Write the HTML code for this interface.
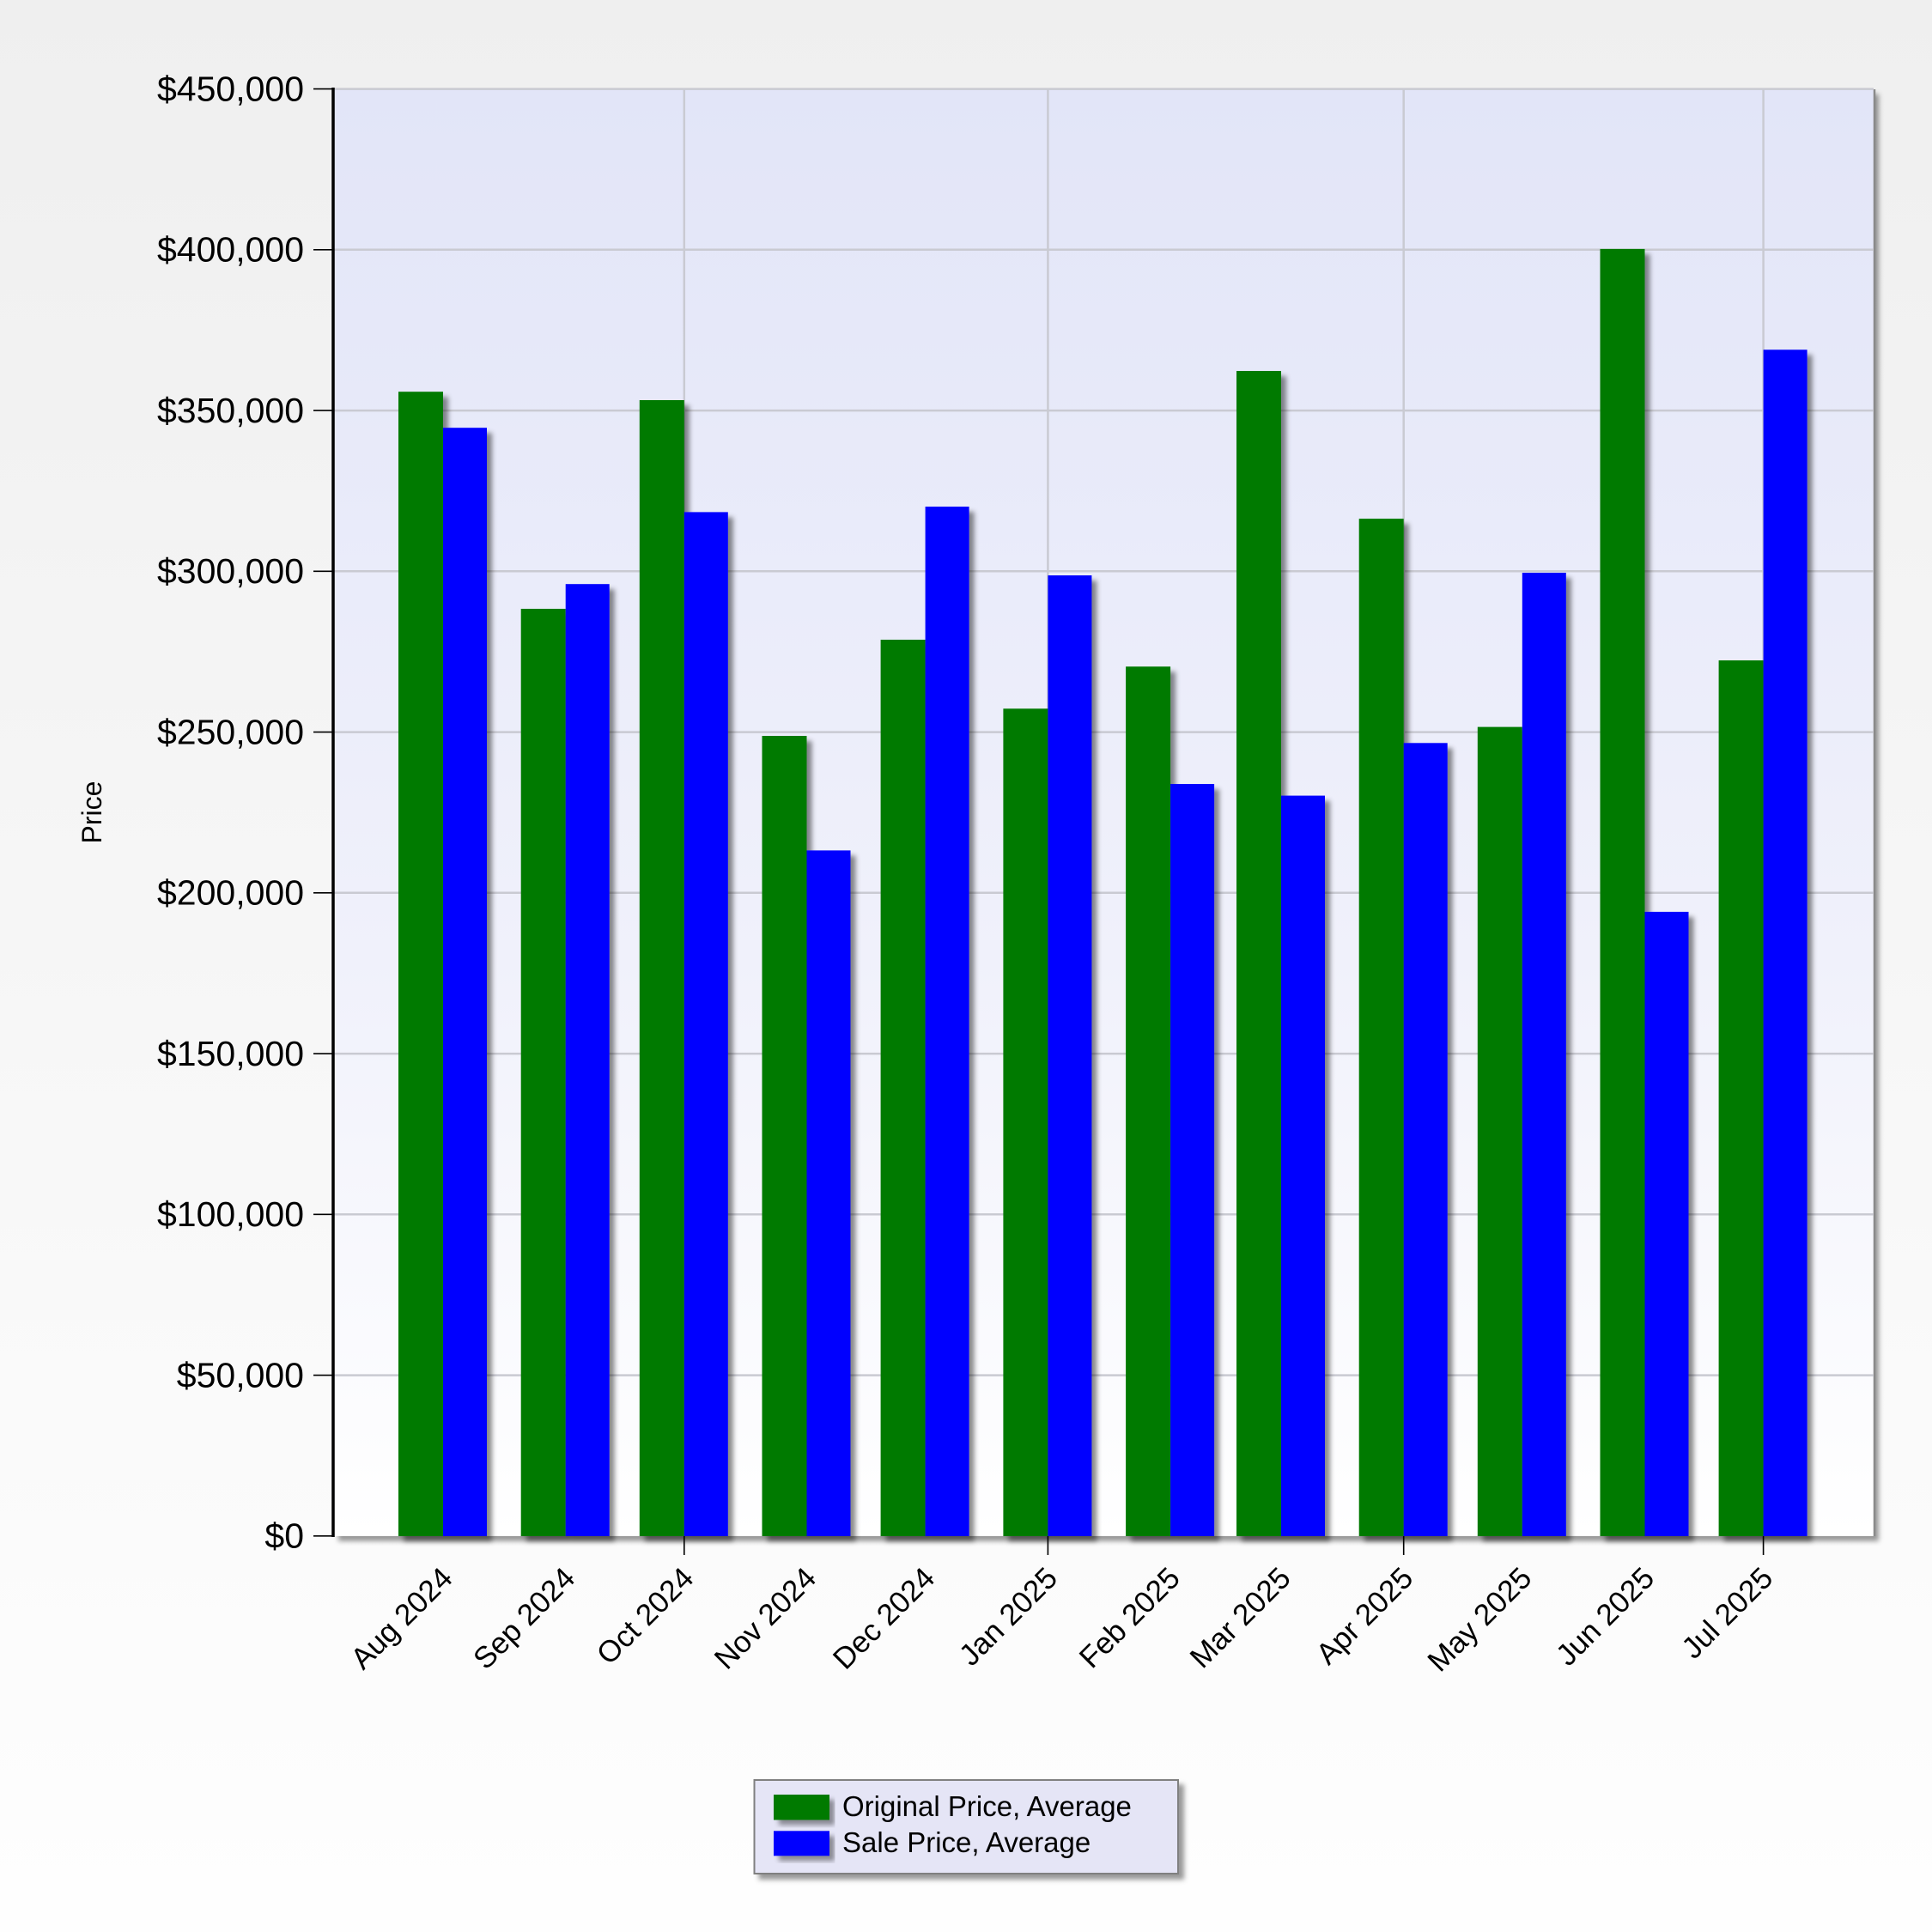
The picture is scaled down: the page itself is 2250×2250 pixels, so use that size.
<!DOCTYPE html>
<html>
<head>
<meta charset="utf-8">
<style>
html,body{margin:0;padding:0;background:#f7f7f7;}
svg{display:block;}
text{font-family:"Liberation Sans",Arial,sans-serif;fill:#000;}
</style>
</head>
<body>
<svg width="2250" height="2250" viewBox="0 0 2250 2250" xmlns="http://www.w3.org/2000/svg">
<defs>
<linearGradient id="bg" x1="0" y1="0" x2="0" y2="1">
<stop offset="0" stop-color="#efefef"/>
<stop offset="1" stop-color="#fefefe"/>
</linearGradient>
<linearGradient id="pbg" x1="0" y1="0" x2="0" y2="1">
<stop offset="0" stop-color="#e2e5f8"/>
<stop offset="0.6" stop-color="#f0f1fb"/>
<stop offset="1" stop-color="#ffffff"/>
</linearGradient>
<filter id="sh" x="-30%" y="-5%" width="160%" height="115%">
<feDropShadow dx="6" dy="6" stdDeviation="3" flood-color="#000" flood-opacity="0.45"/>
</filter>
<filter id="sh2" x="-10%" y="-10%" width="120%" height="140%">
<feDropShadow dx="6" dy="6" stdDeviation="3" flood-color="#000" flood-opacity="0.4"/>
</filter>
</defs>

<rect x="0" y="0" width="2250" height="2250" fill="url(#bg)"/>

<!-- plot area -->
<rect x="388" y="103.6" width="1794" height="1685.2" fill="url(#pbg)" filter="url(#sh2)"/>
<line x1="2183" y1="104" x2="2183" y2="1789" stroke="#8a8a8a" stroke-width="2.5"/>

<!-- horizontal gridlines -->
<g stroke="#c9cad2" stroke-width="2.5">
<line x1="388" y1="103.6" x2="2182" y2="103.6"/>
<line x1="388" y1="290.8" x2="2182" y2="290.8"/>
<line x1="388" y1="478.1" x2="2182" y2="478.1"/>
<line x1="388" y1="665.3" x2="2182" y2="665.3"/>
<line x1="388" y1="852.6" x2="2182" y2="852.6"/>
<line x1="388" y1="1039.8" x2="2182" y2="1039.8"/>
<line x1="388" y1="1227.1" x2="2182" y2="1227.1"/>
<line x1="388" y1="1414.3" x2="2182" y2="1414.3"/>
<line x1="388" y1="1601.6" x2="2182" y2="1601.6"/>
<!-- vertical gridlines -->
<line x1="796.8" y1="103.6" x2="796.8" y2="1789"/>
<line x1="1220.4" y1="103.6" x2="1220.4" y2="1789"/>
<line x1="1634.7" y1="103.6" x2="1634.7" y2="1789"/>
<line x1="2053.6" y1="103.6" x2="2053.6" y2="1789"/>
</g>

<!-- bars -->
<g filter="url(#sh)">
<rect x="464" y="456.2" width="52" height="1332.8" fill="#047a04"/>
<rect x="516" y="498.2" width="51" height="1290.8" fill="#0000ff"/>
<rect x="606.7" y="709.0" width="52" height="1080" fill="#047a04"/>
<rect x="658.7" y="680.2" width="51" height="1108.8" fill="#0000ff"/>
<rect x="744.8" y="466.0" width="52" height="1323" fill="#047a04"/>
<rect x="796.8" y="596.4" width="51" height="1192.6" fill="#0000ff"/>
<rect x="887.5" y="857.0" width="52" height="932" fill="#047a04"/>
<rect x="939.5" y="990.4" width="51" height="798.6" fill="#0000ff"/>
<rect x="1025.6" y="745.0" width="52" height="1044" fill="#047a04"/>
<rect x="1077.6" y="590.0" width="51" height="1199" fill="#0000ff"/>
<rect x="1168.4" y="825.3" width="52" height="963.7" fill="#047a04"/>
<rect x="1220.4" y="670.1" width="51" height="1118.9" fill="#0000ff"/>
<rect x="1311.1" y="776.3" width="52" height="1012.7" fill="#047a04"/>
<rect x="1363.1" y="913.0" width="51" height="876" fill="#0000ff"/>
<rect x="1440.0" y="432.0" width="52" height="1357" fill="#047a04"/>
<rect x="1492.0" y="926.6" width="51" height="862.4" fill="#0000ff"/>
<rect x="1582.7" y="604.1" width="52" height="1184.9" fill="#047a04"/>
<rect x="1634.7" y="865.3" width="51" height="923.7" fill="#0000ff"/>
<rect x="1720.8" y="846.6" width="52" height="942.4" fill="#047a04"/>
<rect x="1772.8" y="667.0" width="51" height="1122" fill="#0000ff"/>
<rect x="1863.5" y="289.9" width="52" height="1499.1" fill="#047a04"/>
<rect x="1915.5" y="1061.9" width="51" height="727.1" fill="#0000ff"/>
<rect x="2001.6" y="769.1" width="52" height="1019.9" fill="#047a04"/>
<rect x="2053.6" y="407.3" width="51" height="1381.7" fill="#0000ff"/>
</g>

<!-- axes -->
<line x1="388" y1="102" x2="388" y2="1790" stroke="#000" stroke-width="3.5"/>
<line x1="386" y1="1789" x2="2184" y2="1789" stroke="#000" stroke-width="3.5" filter="url(#sh2)"/>

<!-- y ticks -->
<g stroke="#000" stroke-width="1.6">
<line x1="365" y1="103.6" x2="388" y2="103.6"/>
<line x1="365" y1="290.8" x2="388" y2="290.8"/>
<line x1="365" y1="478.1" x2="388" y2="478.1"/>
<line x1="365" y1="665.3" x2="388" y2="665.3"/>
<line x1="365" y1="852.6" x2="388" y2="852.6"/>
<line x1="365" y1="1039.8" x2="388" y2="1039.8"/>
<line x1="365" y1="1227.1" x2="388" y2="1227.1"/>
<line x1="365" y1="1414.3" x2="388" y2="1414.3"/>
<line x1="365" y1="1601.6" x2="388" y2="1601.6"/>
<line x1="365" y1="1788.8" x2="388" y2="1788.8"/>
<!-- x ticks -->
<line x1="796.8" y1="1789" x2="796.8" y2="1811"/>
<line x1="1220.4" y1="1789" x2="1220.4" y2="1811"/>
<line x1="1634.7" y1="1789" x2="1634.7" y2="1811"/>
<line x1="2053.6" y1="1789" x2="2053.6" y2="1811"/>
</g>

<!-- y labels -->
<g font-size="41" text-anchor="end">
<text x="354" y="117.5">$450,000</text>
<text x="354" y="304.7">$400,000</text>
<text x="354" y="492">$350,000</text>
<text x="354" y="679.2">$300,000</text>
<text x="354" y="866.5">$250,000</text>
<text x="354" y="1053.7">$200,000</text>
<text x="354" y="1241">$150,000</text>
<text x="354" y="1428.2">$100,000</text>
<text x="354" y="1615.5">$50,000</text>
<text x="354" y="1802.7">$0</text>
</g>

<!-- y title -->
<text x="118" y="946" font-size="32" text-anchor="middle" transform="rotate(-90 118 946)">Price</text>

<!-- x labels -->
<g font-size="35" text-anchor="end">
<text transform="translate(529,1840) rotate(-45)">Aug 2024</text>
<text transform="translate(671.7,1840) rotate(-45)">Sep 2024</text>
<text transform="translate(809.8,1840) rotate(-45)">Oct 2024</text>
<text transform="translate(952.5,1840) rotate(-45)">Nov 2024</text>
<text transform="translate(1090.6,1840) rotate(-45)">Dec 2024</text>
<text transform="translate(1233.4,1840) rotate(-45)">Jan 2025</text>
<text transform="translate(1376.1,1840) rotate(-45)">Feb 2025</text>
<text transform="translate(1505,1840) rotate(-45)">Mar 2025</text>
<text transform="translate(1647.7,1840) rotate(-45)">Apr 2025</text>
<text transform="translate(1785.8,1840) rotate(-45)">May 2025</text>
<text transform="translate(1928.5,1840) rotate(-45)">Jun 2025</text>
<text transform="translate(2066.6,1840) rotate(-45)">Jul 2025</text>
</g>

<!-- legend -->
<rect x="878.5" y="2073" width="493.5" height="109" fill="#e5e5f6" stroke="#808080" stroke-width="2" filter="url(#sh2)"/>
<rect x="901" y="2090" width="65" height="29.5" fill="#047a04" filter="url(#sh2)"/>
<rect x="901" y="2132.3" width="65" height="29" fill="#0000ff" filter="url(#sh2)"/>
<text x="981" y="2115" font-size="33">Original Price, Average</text>
<text x="981" y="2157" font-size="33">Sale Price, Average</text>
</svg>
</body>
</html>
